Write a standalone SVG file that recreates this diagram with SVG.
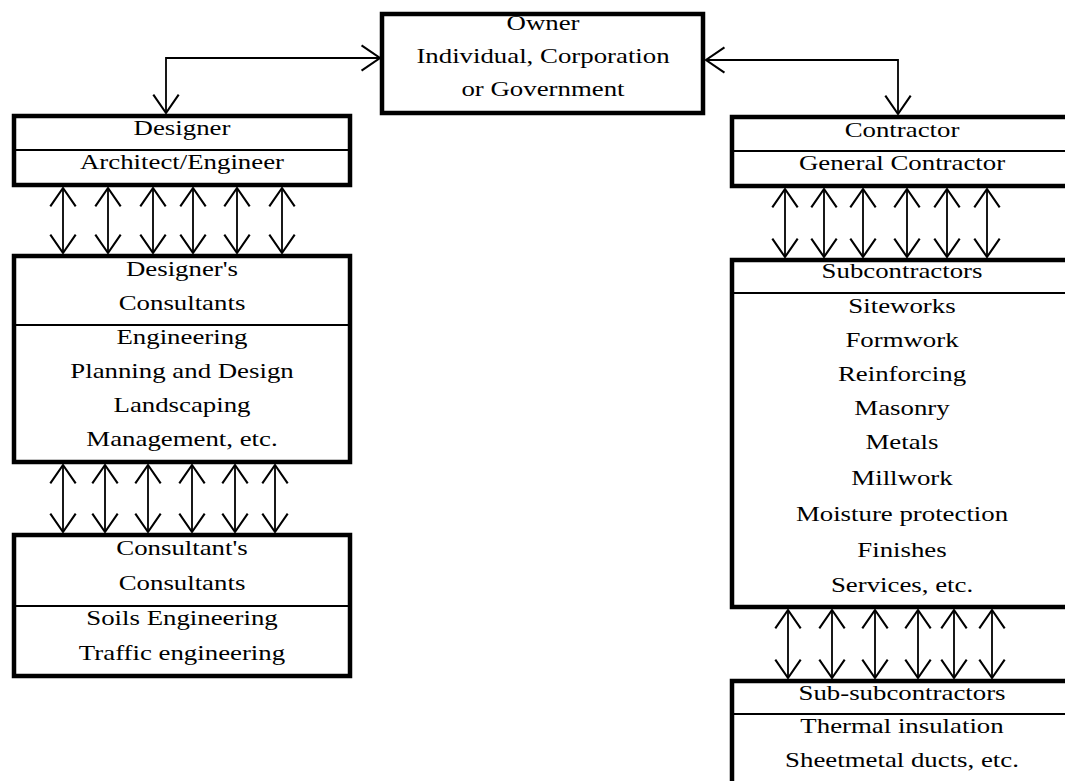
<svg xmlns="http://www.w3.org/2000/svg" width="1065" height="781" viewBox="0 0 1065 781">
<style>
.box{fill:#fff;stroke:#000;stroke-width:4.5}
.div{stroke:#000;stroke-width:2}
.t{font-family:"Liberation Serif","Times New Roman",serif;font-size:22px;text-anchor:middle;fill:#000}
.c{fill:none;stroke:#000;stroke-width:1.8}
</style>
<defs>
<marker id="ah" markerUnits="userSpaceOnUse" markerWidth="30" markerHeight="30" viewBox="-2 -2 20 26" refX="16" refY="11" orient="auto-start-reverse">
<path d="M0,0 L16,11 L0,22" fill="none" stroke="#000" stroke-width="1.8"/>
</marker>
</defs>
<rect width="1065" height="781" fill="#fff"/>
<g id="owner">
<rect class="box" x="382" y="14" width="321" height="99"/>
<text class="t" transform="translate(543 30) scale(1.22 1)">Owner</text>
<text class="t" transform="translate(543 63) scale(1.22 1)">Individual, Corporation</text>
<text class="t" transform="translate(543 96) scale(1.22 1)">or Government</text>
</g>
<g id="designer">
<rect class="box" x="14" y="116" width="336" height="69"/>
<line class="div" x1="14" y1="150" x2="350" y2="150"/>
<text class="t" transform="translate(182 135) scale(1.22 1)">Designer</text>
<text class="t" transform="translate(182 169) scale(1.22 1)">Architect/Engineer</text>
</g>
<g id="designers-consultants">
<rect class="box" x="14" y="256" width="336" height="206"/>
<line class="div" x1="14" y1="325" x2="350" y2="325"/>
<text class="t" transform="translate(182 276) scale(1.22 1)">Designer's</text>
<text class="t" transform="translate(182 310) scale(1.22 1)">Consultants</text>
<text class="t" transform="translate(182 344) scale(1.22 1)">Engineering</text>
<text class="t" transform="translate(182 378) scale(1.22 1)">Planning and Design</text>
<text class="t" transform="translate(182 412) scale(1.22 1)">Landscaping</text>
<text class="t" transform="translate(182 446) scale(1.22 1)">Management, etc.</text>
</g>
<g id="consultants-consultants">
<rect class="box" x="14" y="535" width="336" height="141"/>
<line class="div" x1="14" y1="606" x2="350" y2="606"/>
<text class="t" transform="translate(182 555) scale(1.22 1)">Consultant's</text>
<text class="t" transform="translate(182 590) scale(1.22 1)">Consultants</text>
<text class="t" transform="translate(182 625) scale(1.22 1)">Soils Engineering</text>
<text class="t" transform="translate(182 660) scale(1.22 1)">Traffic engineering</text>
</g>
<g id="contractor">
<rect class="box" x="732" y="117" width="400" height="69"/>
<line class="div" x1="732" y1="151" x2="1080" y2="151"/>
<text class="t" transform="translate(902 137) scale(1.22 1)">Contractor</text>
<text class="t" transform="translate(902 170) scale(1.22 1)">General Contractor</text>
</g>
<g id="subcontractors">
<rect class="box" x="732" y="260" width="400" height="347"/>
<line class="div" x1="732" y1="293" x2="1080" y2="293"/>
<text class="t" transform="translate(902 278) scale(1.22 1)">Subcontractors</text>
<text class="t" transform="translate(902 313) scale(1.22 1)">Siteworks</text>
<text class="t" transform="translate(902 347) scale(1.22 1)">Formwork</text>
<text class="t" transform="translate(902 381) scale(1.22 1)">Reinforcing</text>
<text class="t" transform="translate(902 415) scale(1.22 1)">Masonry</text>
<text class="t" transform="translate(902 449) scale(1.22 1)">Metals</text>
<text class="t" transform="translate(902 485) scale(1.22 1)">Millwork</text>
<text class="t" transform="translate(902 521) scale(1.22 1)">Moisture protection</text>
<text class="t" transform="translate(902 557) scale(1.22 1)">Finishes</text>
<text class="t" transform="translate(902 592) scale(1.22 1)">Services, etc.</text>
</g>
<g id="sub-subcontractors">
<rect class="box" x="732" y="681" width="400" height="200"/>
<line class="div" x1="732" y1="714" x2="1080" y2="714"/>
<text class="t" transform="translate(902 700) scale(1.22 1)">Sub-subcontractors</text>
<text class="t" transform="translate(902 733) scale(1.22 1)">Thermal insulation</text>
<text class="t" transform="translate(902 767) scale(1.22 1)">Sheetmetal ducts, etc.</text>
</g>
<g id="connectors">
<path class="c" d="M166,113 L166,58 L380,58" marker-start="url(#ah)" marker-end="url(#ah)"/>
<path class="c" d="M706,60 L898,60 L898,114" marker-start="url(#ah)" marker-end="url(#ah)"/>
<g marker-start="url(#ah)" marker-end="url(#ah)">
<line class="c" x1="63" y1="188" x2="63" y2="253" marker-start="url(#ah)" marker-end="url(#ah)"/>
<line class="c" x1="108" y1="188" x2="108" y2="253" marker-start="url(#ah)" marker-end="url(#ah)"/>
<line class="c" x1="153" y1="188" x2="153" y2="253" marker-start="url(#ah)" marker-end="url(#ah)"/>
<line class="c" x1="193" y1="188" x2="193" y2="253" marker-start="url(#ah)" marker-end="url(#ah)"/>
<line class="c" x1="237" y1="188" x2="237" y2="253" marker-start="url(#ah)" marker-end="url(#ah)"/>
<line class="c" x1="282" y1="188" x2="282" y2="253" marker-start="url(#ah)" marker-end="url(#ah)"/>
<line class="c" x1="63" y1="465" x2="63" y2="532" marker-start="url(#ah)" marker-end="url(#ah)"/>
<line class="c" x1="105" y1="465" x2="105" y2="532" marker-start="url(#ah)" marker-end="url(#ah)"/>
<line class="c" x1="148" y1="465" x2="148" y2="532" marker-start="url(#ah)" marker-end="url(#ah)"/>
<line class="c" x1="192" y1="465" x2="192" y2="532" marker-start="url(#ah)" marker-end="url(#ah)"/>
<line class="c" x1="235" y1="465" x2="235" y2="532" marker-start="url(#ah)" marker-end="url(#ah)"/>
<line class="c" x1="275" y1="465" x2="275" y2="532" marker-start="url(#ah)" marker-end="url(#ah)"/>
<line class="c" x1="785" y1="189" x2="785" y2="257" marker-start="url(#ah)" marker-end="url(#ah)"/>
<line class="c" x1="824" y1="189" x2="824" y2="257" marker-start="url(#ah)" marker-end="url(#ah)"/>
<line class="c" x1="863" y1="189" x2="863" y2="257" marker-start="url(#ah)" marker-end="url(#ah)"/>
<line class="c" x1="907" y1="189" x2="907" y2="257" marker-start="url(#ah)" marker-end="url(#ah)"/>
<line class="c" x1="947" y1="189" x2="947" y2="257" marker-start="url(#ah)" marker-end="url(#ah)"/>
<line class="c" x1="987" y1="189" x2="987" y2="257" marker-start="url(#ah)" marker-end="url(#ah)"/>
<line class="c" x1="788" y1="610" x2="788" y2="678" marker-start="url(#ah)" marker-end="url(#ah)"/>
<line class="c" x1="832" y1="610" x2="832" y2="678" marker-start="url(#ah)" marker-end="url(#ah)"/>
<line class="c" x1="875" y1="610" x2="875" y2="678" marker-start="url(#ah)" marker-end="url(#ah)"/>
<line class="c" x1="918" y1="610" x2="918" y2="678" marker-start="url(#ah)" marker-end="url(#ah)"/>
<line class="c" x1="954" y1="610" x2="954" y2="678" marker-start="url(#ah)" marker-end="url(#ah)"/>
<line class="c" x1="992" y1="610" x2="992" y2="678" marker-start="url(#ah)" marker-end="url(#ah)"/>
</g>
</g>
</svg>
